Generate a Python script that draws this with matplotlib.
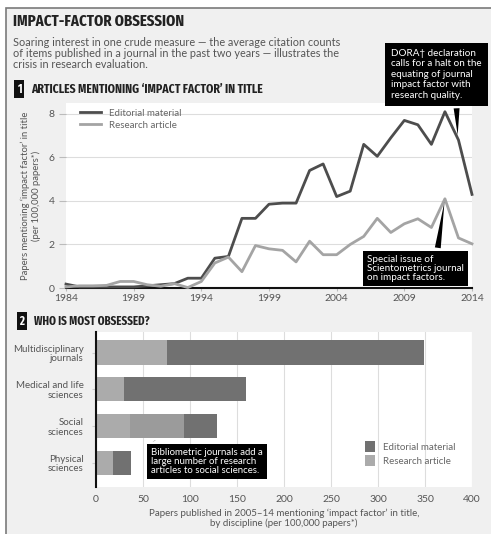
import os
import numpy as np
import matplotlib
matplotlib.use("Agg")
import matplotlib.pyplot as plt
from matplotlib.patches import Rectangle
from matplotlib import font_manager as fm

# data
years = list(range(1984, 2015))
editorial = [0.18, 0.05, 0.05, 0.05, 0.05, 0.05, 0.1, 0.15, 0.2, 0.45, 0.45,
             1.37, 1.45, 3.2, 3.2, 3.85, 3.9, 3.9, 5.4, 5.7, 4.2,
             4.45, 6.6, 6.05, 6.9, 7.7, 7.5, 6.6, 8.1, 6.8, 4.3]
research = [0.05, 0.1, 0.1, 0.12, 0.3, 0.3, 0.15, 0.08, 0.2, 0.02, 0.3,
            1.15, 1.42, 0.75, 1.95, 1.8, 1.73, 1.2, 2.15, 1.53, 1.53,
            2.0, 2.37, 3.2, 2.55, 2.95, 3.18, 2.78, 4.1, 2.3, 2.03]
year_ticks = [1984, 1989, 1994, 1999, 2004, 2009, 2014]

disciplines = ["Multidisciplinary\njournals", "Medical and life\nsciences",
               "Social\nsciences", "Physical\nsciences"]
bar_research = np.array([75, 30, 94, 18])
bar_bibliometric = np.array([0, 0, 58, 0])
bar_editorial = np.array([274, 130, 35, 19])

W, H = 491, 534
DARK = "#4d4d4d"
LIGHT = "#a4a4a4"
plt.rcParams["font.family"] = ["Lato", "DejaVu Sans"]


def find_condensed():
    # look for any installed bold condensed/narrow face for the headings
    best = None
    for f in fm.fontManager.ttflist:
        base = os.path.basename(f.fname).lower()
        if "bold" not in base or "italic" in base or "oblique" in base:
            continue
        if "semibold" in base or "extrabold" in base:
            continue
        if "narrow" in base or "condensed" in base:
            rank = 0 if ("extracondensed" in base) else 1
            if "semicondensed" in base:
                rank = 2
            if best is None or rank < best[0]:
                best = (rank, f.fname)
    if best:
        return fm.FontProperties(fname=best[1])
    return fm.FontProperties(family=["Roboto", "DejaVu Sans"], weight="bold")


COND = find_condensed()


def fx(px):
    return px / W


def fy(py):
    return 1 - py / H


fig = plt.figure(figsize=(W / 100, H / 100), dpi=100, facecolor="white")
fig.patches.append(Rectangle((fx(6), -0.01), 1.0, fy(8) + 0.01, transform=fig.transFigure,
                             fc="#f0f0f0", ec="#7a7a7a", lw=1.2, zorder=-10))
renderer = fig.canvas.get_renderer()


def fit(t, width_px, max_size):
    t.set_fontsize(max_size)
    w = t.get_window_extent(renderer).width
    if w > width_px:
        t.set_fontsize(max_size * width_px / w)


# header
title = fig.text(fx(13), fy(21), "IMPACT-FACTOR OBSESSION", fontproperties=COND,
                 color="#222222", va="center")
fit(title, 170, 14)
fig.text(fx(13), fy(37), "Soaring interest in one crude measure \u2014 the average citation counts\n"
         "of items published in a journal in the past two years \u2014 illustrates the\n"
         "crisis in research evaluation.", fontsize=7.8, color="#555555", va="top", linespacing=1.0)


def section(num, x, y, label, width_px):
    fig.text(fx(x), fy(y), num, fontproperties=COND, fontsize=8.5, color="white",
             va="center", ha="center",
             bbox=dict(boxstyle="square,pad=0.2", fc="#111111", ec="none"))
    t = fig.text(fx(x + 12), fy(y), label, fontproperties=COND, color="#222222", va="center")
    fit(t, width_px, 10.5)


section("1", 19, 89, "ARTICLES MENTIONING \u2018IMPACT FACTOR\u2019 IN TITLE", 230)
section("2", 22, 321, "WHO IS MOST OBSESSED?", 115)

# line chart
ax1 = fig.add_axes([fx(66), fy(288), 406 / W, 185 / H])
ax1.set_facecolor("white")
ax1.plot(years, editorial, color=DARK, lw=2, label="Editorial material", clip_on=False, zorder=3)
ax1.plot(years, research, color=LIGHT, lw=2, label="Research article", clip_on=False, zorder=3)
ax1.set_xlim(1984, 2014)
ax1.set_ylim(0, 8.5)
ax1.set_yticks([0, 2, 4, 6, 8])
ax1.set_xticks(year_ticks)
ax1.grid(axis="y", color="#dddddd", lw=0.8)
ax1.set_axisbelow(True)
for s in ["top", "right", "left"]:
    ax1.spines[s].set_visible(False)
ax1.spines["bottom"].set_color("#111111")
ax1.spines["bottom"].set_linewidth(1.5)
ax1.tick_params(axis="y", length=5, color="#bbbbbb", labelsize=7.5, labelcolor="#555555", pad=3)
ax1.tick_params(axis="x", length=2, color="#bbbbbb", labelsize=7.5, labelcolor="#555555", pad=2)
ax1.set_ylabel("Papers mentioning \u2018impact factor\u2019 in title\n(per 100,000 papers*)",
               fontsize=6.8, color="#555555", labelpad=6, linespacing=1.1)
ax1.legend(loc="upper left", bbox_to_anchor=(0.02, 1.0), frameon=False, fontsize=7,
           handlelength=2.2, labelcolor="#666666", borderaxespad=0.2, labelspacing=0.3)

box = dict(boxstyle="square,pad=0.45", fc="black", ec="none")
ax1.annotate("DORA\u2020 declaration\ncalls for a halt on the\nequating of journal\nimpact factor with\nresearch quality.",
             xy=(2012.95, 6.9), xycoords="data", xytext=(fx(391), fy(49)), textcoords="figure fraction",
             fontsize=7.1, color="white", va="top", ha="left", linespacing=1.2,
             bbox=dict(boxstyle="square,pad=0.6", fc="black", ec="none"),
             arrowprops=dict(arrowstyle="wedge,tail_width=0.6", fc="black", ec="none", relpos=(0.72, 0)),
             zorder=5, annotation_clip=False)
ax1.annotate("Special issue of\nScientometrics journal\non impact factors.",
             xy=(2012, 4.1), xycoords="data", xytext=(fx(367), fy(282)), textcoords="figure fraction",
             fontsize=7.1, color="white", va="bottom", ha="left", linespacing=1.0, bbox=box,
             arrowprops=dict(arrowstyle="wedge,tail_width=0.6", fc="black", ec="none", relpos=(0.72, 1)),
             zorder=5, annotation_clip=False)

# bar chart
ax2 = fig.add_axes([fx(96), fy(487), 376 / W, 155 / H])
ax2.set_facecolor("white")
pos = np.arange(len(disciplines))
h = 0.66
ax2.barh(pos, bar_research, height=h, color="#ababab", label="Research article", zorder=2)
ax2.barh(pos, bar_bibliometric, left=bar_research - bar_bibliometric, height=h, color="#9b9b9b", zorder=2)
ax2.barh(pos, bar_editorial, left=bar_research, height=h, color="#717171",
         label="Editorial material", zorder=2)
ax2.set_ylim(3.66, -0.56)
ax2.set_xlim(0, 400)
ax2.set_xticks(np.arange(0, 401, 50))
ax2.set_yticks(pos)
ax2.set_yticklabels(disciplines, fontsize=7, color="#555555", ha="right", linespacing=1.1)
ax2.grid(axis="x", color="#dddddd", lw=0.8)
ax2.set_axisbelow(True)
for s in ["top", "right", "bottom"]:
    ax2.spines[s].set_visible(False)
ax2.spines["left"].set_color("#111111")
ax2.spines["left"].set_linewidth(1.5)
ax2.tick_params(axis="y", length=3, color="#cccccc", pad=6)
ax2.tick_params(axis="x", length=0, labelsize=7.5, labelcolor="#555555", pad=6)
ax2.set_xlabel("Papers published in 2005\u201314 mentioning \u2018impact factor\u2019 in title,\n"
               "by discipline (per 100,000 papers*)", fontsize=7, color="#555555", labelpad=3,
               linespacing=1.1)
handles, labels = ax2.get_legend_handles_labels()
ax2.legend(handles[::-1], labels[::-1], loc="lower right", bbox_to_anchor=(0.98, 0.08), frameon=False,
           fontsize=7, labelcolor="#666666", handlelength=1.1, handleheight=1.3, labelspacing=0.35)
ax2.annotate("Bibliometric journals add a\nlarge number of research\narticles to social sciences.",
             xy=(61, 2 + h / 2), xycoords="data", xytext=(fx(151), fy(475)), textcoords="figure fraction",
             fontsize=6.9, color="white", va="bottom", ha="left", linespacing=1.0, bbox=box,
             arrowprops=dict(arrowstyle="wedge,tail_width=0.4", fc="black", ec="none", relpos=(0.05, 1)),
             zorder=5, annotation_clip=False)

fig.savefig("out.png", dpi=100, facecolor=fig.get_facecolor())
